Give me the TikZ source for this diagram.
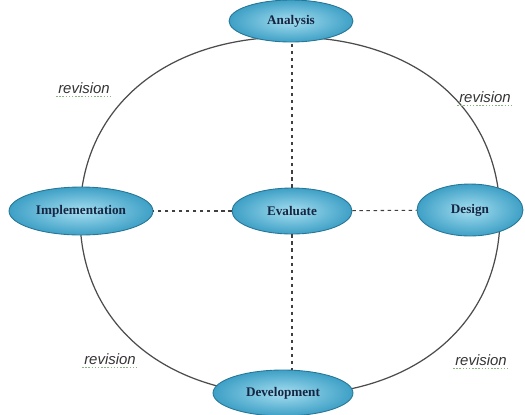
\documentclass[tikz,border=0pt]{standalone}
\usepackage{fontspec}
\setmainfont{Liberation Serif}
\newfontfamily\revfont{Liberation Sans}
\usetikzlibrary{shapes.geometric}
\definecolor{phaseblue}{RGB}{62,160,198}
\definecolor{phaselight}{RGB}{165,222,240}
\definecolor{phaserim}{RGB}{40,118,150}
\definecolor{phasetext}{RGB}{22,38,66}
\definecolor{squiggle}{RGB}{140,180,130}

\begin{document}
\begin{tikzpicture}[x=0.02cm,y=-0.02cm]
            \tikzset{
                phase/.style={ellipse,draw=phaserim,line width=0.5pt,inner color=phaselight,outer color=phaseblue,
                    font=\bfseries\fontsize{7.5}{9}\selectfont,text=phasetext,inner sep=0pt},
                rev/.style={font=\revfont\itshape\fontsize{8.5}{10}\selectfont,text=black!80,inner sep=1pt},
                link/.style={dash pattern=on 2pt off 2pt,black!75,line width=0.6pt}}
            \useasboundingbox (0,0) rectangle (525,414);
            \coordinate (top) at (290,37);
            \coordinate (right) at (500,216);
            \coordinate (bottom) at (290,395);
            \coordinate (left) at (80,216);
            \draw [black!70,line width=0.7pt] (top) .. controls (416,37) and (500,109) .. (right)
                .. controls (500,323) and (416,395) .. (bottom)
                .. controls (164,395) and (80,323) .. (left)
                .. controls (80,109) and (164,37) .. (top) -- cycle;
            \node [phase,minimum width=2.48cm,minimum height=0.84cm] (ana) at (291,21) {Analysis};
            \node [phase,minimum width=2.4cm,minimum height=0.92cm] (eva) at (292,211) {Evaluate};
            \node [phase,minimum width=2.12cm,minimum height=1.04cm] (des) at (470,210) {Design};
            \node [phase,minimum width=2.88cm,minimum height=0.96cm] (imp) at (81,211) {Implementation};
            \node [phase,minimum width=2.8cm,minimum height=0.92cm] (dev) at (283,393) {Development};
            \draw [link] (eva) -- (eva |- ana.south);
            \draw [link] (eva) -- (eva |- dev.north);
            \draw [link] (eva) -- (imp);
            \draw [link] (eva) -- (des);
            \node [rev] (r1) at (84,88) {revision};
            \node [rev] (r2) at (485,97) {revision};
            \node [rev] (r3) at (110,359) {revision};
            \node [rev] (r4) at (481,360) {revision};
            \foreach \r in {r1,r2,r3,r4}
                \draw [squiggle,densely dotted,line width=0.8pt] ([yshift=-0.5pt]\r.south west) -- ([yshift=-0.5pt]\r.south east);
        \end{tikzpicture}
\end{document}
